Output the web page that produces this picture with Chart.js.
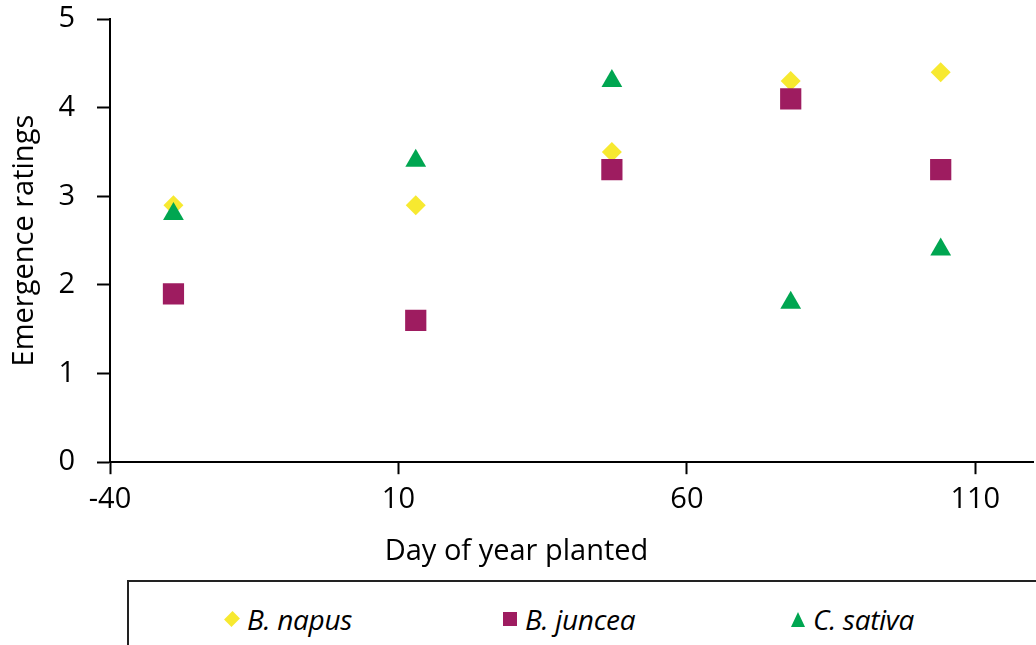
<!DOCTYPE html>
<html>
<head>
<meta charset="utf-8">
<script src="https://cdn.jsdelivr.net/npm/chart.js@4.4.1/dist/chart.umd.min.js"></script>
<style>
    body { margin: 0; background: #fff; font-family: 'Open Sans', sans-serif; }
    #wrap { position: relative; width: 1036px; height: 645px; overflow: hidden; }
    #chart-box { position: absolute; left: 0; top: 0; width: 1036px; height: 580px; }
    #legend-box {
        position: absolute; left: 127px; top: 580px; width: 1000px; height: 100px;
        border: 2px solid #222; box-sizing: border-box;
    }
    .legend-item { position: absolute; top: 18px; display: flex; align-items: center; font-style: italic; font-size: 28px; color: #000; letter-spacing: -0.3px; }
    .mk { display: inline-block; margin-right: 8px; }
    .mk-diamond { width: 10px; height: 10px; background: #f7e930; transform: rotate(45deg) scale(1.05, 1.2); margin-left: 2px; margin-right: 10px; }
    .mk-square { width: 14px; height: 14px; background: #9e1c60; }
    .mk-triangle { width: 0; height: 0; border-left: 7px solid transparent; border-right: 7px solid transparent; border-bottom: 15px solid #00a651; }
</style>
</head>
<body>
<div id="wrap">
    <div id="chart-box"><canvas id="chart-emergence"></canvas></div>
    <div id="legend-box"></div>
</div>
<script>
// --- Data ---
const plantingDays = [-29, 13, 47, 78, 104];
const napusRatings = [2.9, 2.9, 3.5, 4.3, 4.4];
const junceaRatings = [1.9, 1.6, 3.3, 4.1, 3.3];
const sativaRatings = [2.8, 3.4, 4.3, 1.8, 2.4];
const xTickValues = [-40, 10, 60, 110];
const seriesNames = ['B. napus', 'B. juncea', 'C. sativa'];

const colors = ['#f7e930', '#9e1c60', '#00a651'];
const fontFamily = "'Open Sans', sans-serif";

const toPoints = (ys) => plantingDays.map((x, i) => ({ x: x, y: ys[i] }));

document.addEventListener('DOMContentLoaded', () => {
    const ctx = document.getElementById('chart-emergence');

    new Chart(ctx, {
        type: 'scatter',
        data: {
            datasets: [
                { label: seriesNames[0], data: toPoints(napusRatings), pointStyle: 'rectRot', pointRadius: 10,
                  backgroundColor: colors[0], borderColor: colors[0], borderWidth: 0, order: 3 },
                { label: seriesNames[1], data: toPoints(junceaRatings), pointStyle: 'rect', pointRadius: 15,
                  backgroundColor: colors[1], borderColor: colors[1], borderWidth: 0, order: 2 },
                { label: seriesNames[2], data: toPoints(sativaRatings), pointStyle: 'triangle', pointRadius: 12,
                  backgroundColor: colors[2], borderColor: colors[2], borderWidth: 0, order: 1 }
            ]
        },
        options: {
            responsive: true,
            maintainAspectRatio: false,
            animation: false,
            layout: { autoPadding: false, padding: { top: 19, right: 3, left: 0, bottom: 0 } },
            plugins: {
                legend: { display: false },
                tooltip: { enabled: false },
                title: {
                    display: true,
                    position: 'bottom',
                    text: 'Day of year planted',
                    color: '#000',
                    font: { family: fontFamily, size: 29, weight: 'normal' },
                    padding: { top: 0, bottom: 11 }
                }
            },
            scales: {
                x: {
                    type: 'linear',
                    min: -40,
                    max: 120,
                    border: { color: '#000', width: 2 },
                    grid: { drawOnChartArea: false, tickLength: 12, tickColor: '#000', tickWidth: 2 },
                    ticks: { color: '#000', font: { family: fontFamily, size: 29 }, padding: 8, maxRotation: 0 },
                    afterBuildTicks: (scale) => { scale.ticks = xTickValues.map(v => ({ value: v })); },
                    afterFit: (scale) => {
                        scale.height = 72;
                        scale.paddingLeft = 0;
                        scale.paddingRight = 0;
                    }
                },
                y: {
                    min: 0,
                    max: 5,
                    border: { color: '#000', width: 2 },
                    grid: { drawOnChartArea: false, tickLength: 13, tickColor: '#000', tickWidth: 2 },
                    ticks: { stepSize: 1, color: '#000', font: { family: fontFamily, size: 29 }, padding: 22 },
                    title: {
                        display: true,
                        text: 'Emergence ratings',
                        color: '#000',
                        font: { family: fontFamily, size: 29 },
                        padding: { top: 7, bottom: 0 }
                    },
                    afterFit: (scale) => {
                        scale.width = 110;
                        scale.paddingTop = 0;
                        scale.paddingBottom = 0;
                    }
                }
            }
        }
    });

    // Legend (boxed, under the chart)
    const legendBox = document.getElementById('legend-box');
    const markerClass = ['mk-diamond', 'mk-square', 'mk-triangle'];
    const legendLeft = [96, 374, 662];
    legendBox.innerHTML = seriesNames.map((name, i) => `
        <div class="legend-item" style="left:${legendLeft[i]}px">
            <span class="mk ${markerClass[i]}"></span><span>${name}</span>
        </div>
    `).join('');
});
</script>
</body>
</html>
